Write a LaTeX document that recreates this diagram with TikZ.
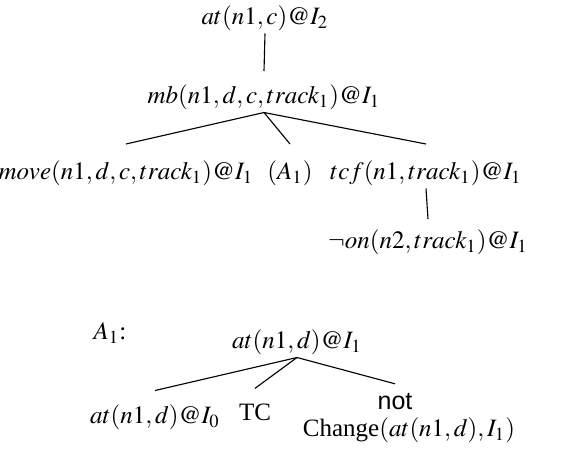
\documentclass[tikz,border=0pt]{standalone}
\usepackage{mathptmx}
\usepackage[no-math]{fontspec}
\setmainfont{Liberation Serif}
\setsansfont{Liberation Sans}
\usepackage{tikz}
\tikzset{every node/.append style={font=\normalsize}}

\begin{document}
\begin{tikzpicture}[x=0.4pt, y=-0.4pt,
    lit/.style={inner sep=1pt},
    edge/.style={line width=0.45pt}]
    \useasboundingbox (0,0) rectangle (580,448);
    % main tree
    \node[lit] (top) at (265,18) {$at(n1,c)@I_2$};
    \node[lit] (mb) at (264,97) {$mb(n1,d,c,track_1)@I_1$};
    \node[lit] (move) at (126,173) {$move(n1,d,c,track_1)@I_1$};
    \node[lit] (aone) at (290,173) {$(A_1)$};
    \node[lit] (tcf) at (426,173) {$tcf(n1,track_1)@I_1$};
    \node[lit] (noton) at (428,242) {$\neg on(n2,track_1)@I_1$};
    % A1
    \node[lit] (alab) at (110,333) {$A_1$:};
    \node[lit] (atd) at (297,342) {$at(n1,d)@I_1$};
    \node[lit] (atz) at (155,417) {$at(n1,d)@I_0$};
    \node[lit] (tc) at (255,412) {TC};
    \node[lit] (nt) at (395,402) {\textsf{not}};
    \node[lit] (chg) at (409,430) {Change$(at(n1,d),I_1)$};
    % links
    \foreach \a/\b/\g in {top/mb/4.2pt, mb/move/5.4pt, mb/aone/5.4pt, mb/tcf/5.4pt, tcf/noton/3pt, atd/atz/4.4pt, atd/tc/4.9pt, atd/nt/2.8pt}
        \draw[edge] (\a.south) -- ([yshift=\g]\b.north);
\end{tikzpicture}
\end{document}
